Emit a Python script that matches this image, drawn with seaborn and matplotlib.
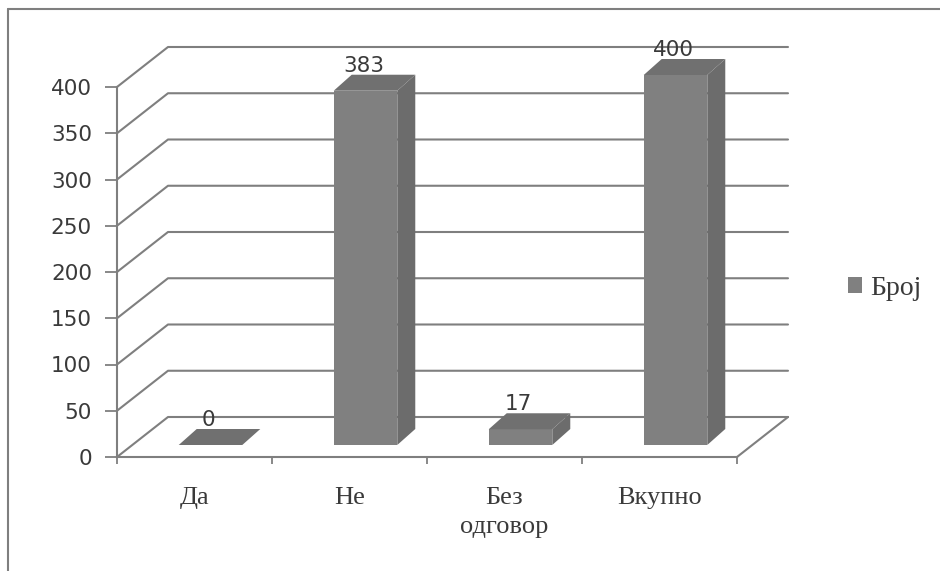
import matplotlib
matplotlib.use('agg')
import matplotlib.pyplot as plt
from matplotlib.lines import Line2D
from matplotlib.patches import Polygon
import seaborn as sns

categories = ['Да', 'Не', 'Без\nодговор', 'Вкупно']
counts = [0, 383, 17, 400]
series_name = 'Број'
y_ticks = [0, 50, 100, 150, 200, 250, 300, 350, 400]

W, H = 940, 571
LINE = '#7f7f7f'
TEXT = '#3a3a3a'
SERIF = 'Liberation Serif'

sns.set_style('white')
plt.rcParams['font.family'] = ['DejaVu Sans']

fig = plt.figure(figsize=(W / 100, H / 100), dpi=100)
ax = fig.add_axes([117 / W, (H - 457) / H, 620 / W, 370 / H])

sns.barplot(x=categories, y=counts, color='#808080', width=0.41, label=series_name,
            saturation=1, edgecolor='none', ax=ax)
ax.set_xlim(-0.5, 3.5)
ax.set_ylim(0, 400)

# pixels -> data units, the 3D look is only shifted copies
px_x = 4 / 620
px_y = 400 / 370
wall_dx, wall_dy = 51 * px_x, 40 * px_y
shift_dx, shift_dy = 16 * px_x, 12 * px_y
side_dx, side_dy = 18 * px_x, 16 * px_y

# back wall and floor
for v in y_ticks:
    ax.plot([-0.5, -0.5 + wall_dx, 3.5 + wall_dx], [v, v + wall_dy, v + wall_dy],
            color=LINE, lw=1.5, clip_on=False, zorder=1)
ax.plot([3.5, 3.5 + wall_dx], [0, wall_dy], color=LINE, lw=1.5, clip_on=False, zorder=1)

for bar, n in zip(ax.containers[0], counts):
    x0 = bar.get_x() + shift_dx
    x1 = x0 + bar.get_width()
    y0 = shift_dy
    y1 = y0 + n
    bar.set_x(x0)
    bar.set_y(y0)
    bar.set_clip_on(False)
    bar.set_zorder(3)
    ax.add_patch(Polygon([(x1, y0), (x1 + side_dx, y0 + side_dy), (x1 + side_dx, y1 + side_dy), (x1, y1)],
                         facecolor='#6c6c6c', edgecolor='none', clip_on=False, zorder=3))
    ax.add_patch(Polygon([(x0, y1), (x0 + side_dx, y1 + side_dy), (x1 + side_dx, y1 + side_dy), (x1, y1)],
                         facecolor='#707070', edgecolor='none', clip_on=False, zorder=3))
    ax.annotate(str(n), xy=((x0 + x1) / 2, y1 + side_dy), xytext=(-2, -1), textcoords='offset pixels',
                ha='center', va='bottom', fontsize=15.5, color=TEXT, zorder=4, annotation_clip=False)

sns.despine(ax=ax, top=True, right=True)
for side in ['left', 'bottom']:
    ax.spines[side].set_color(LINE)
    ax.spines[side].set_linewidth(1.5)

ax.set_yticks(y_ticks)
ax.set_xticks([-0.5, 0.5, 1.5, 2.5, 3.5], minor=False)
ax.set_xticklabels([])
ax.tick_params(axis='y', left=True, length=9, width=1.3, color=LINE, labelsize=15.5,
               labelcolor=TEXT, pad=9)
ax.tick_params(axis='x', bottom=True, length=5, width=1.3, color=LINE)

for i, name in enumerate(categories):
    ax.annotate(name, xy=(i, 0), xytext=(0, -30), xycoords=('data', 'axes fraction'),
                textcoords='offset pixels', ha='center', va='top', fontsize=19,
                family=SERIF, color=TEXT, linespacing=1.4, annotation_clip=False)

leg = ax.legend(loc='center left', bbox_to_anchor=(1.139, 0.455), frameon=False,
                handlelength=0.5, handleheight=0.5, handletextpad=0.3,
                prop={'family': SERIF, 'size': 20}, labelcolor=TEXT)

# scanned page border, only top and left show
fig.add_artist(Line2D([8 / W, 8 / W], [0, 1 - 9 / H], color=LINE, lw=1.5))
fig.add_artist(Line2D([8 / W, 1], [1 - 9 / H, 1 - 9 / H], color=LINE, lw=1.5))

fig.savefig('out.png', dpi=100, facecolor='white')
plt.close()
